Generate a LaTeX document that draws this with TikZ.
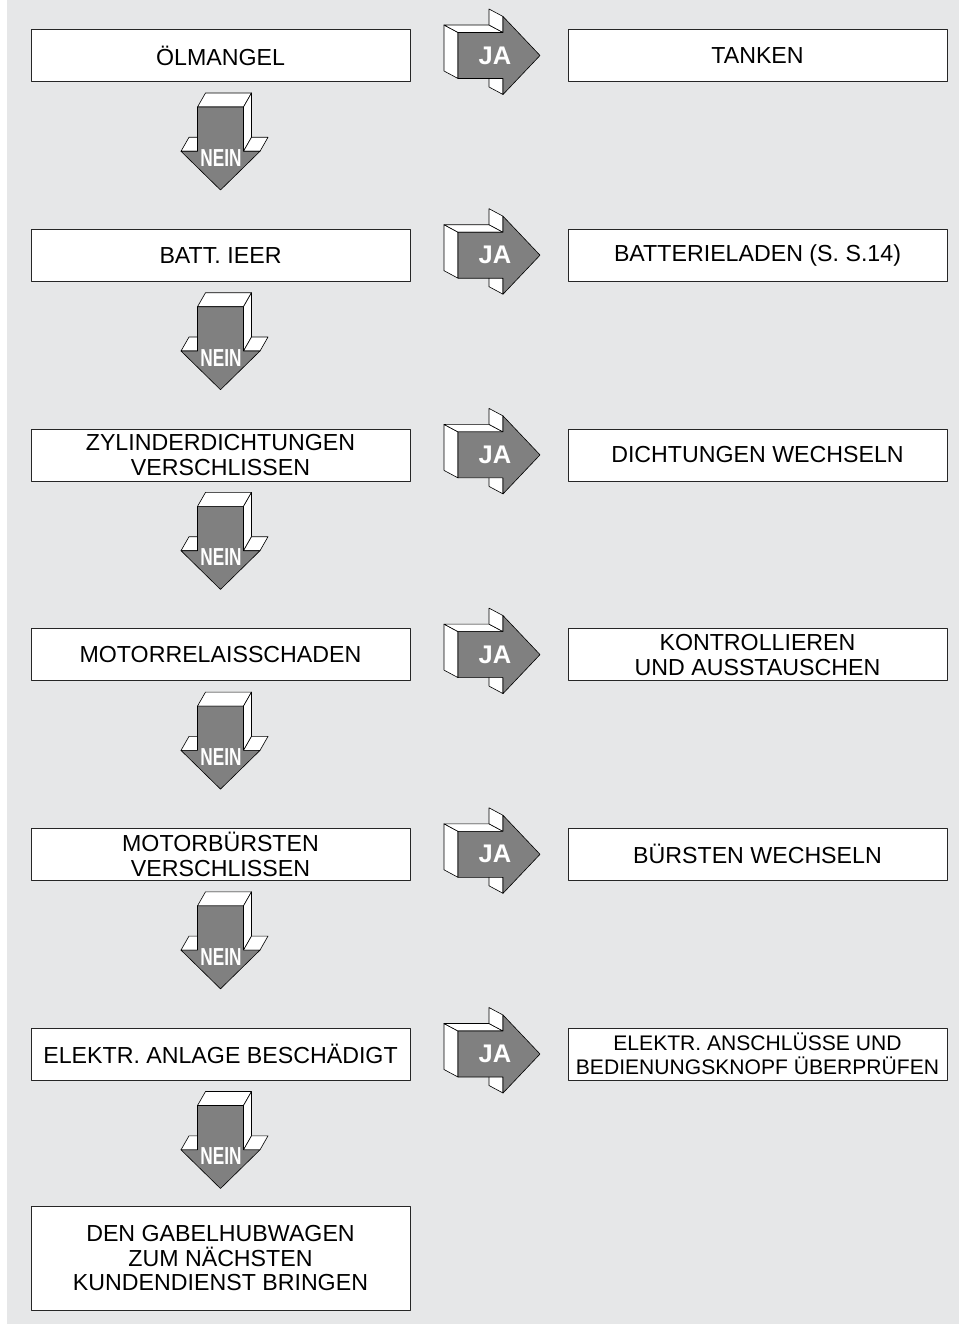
\documentclass[tikz,border=0pt]{standalone}
\usepackage{fontspec}
\setmainfont{Liberation Sans}
\definecolor{panel}{RGB}{230,231,232}
\definecolor{arrowgray}{RGB}{128,128,128}

\begin{document}
\begin{tikzpicture}[x=0.02cm, y=-0.02cm, line join=round,
    box/.style={draw=black!85, fill=white, line width=0.4pt, minimum width=7.58cm, minimum height=1.04cm, align=center, inner sep=0pt, font=\fontsize{13.2}{14.2}\selectfont},
    face/.style={fill=white, draw=black, line width=0.35pt},
    front/.style={fill=arrowgray, draw=black, line width=0.35pt},
    jatext/.style={text=white, font=\fontsize{14.5}{14.5}\selectfont\bfseries, inner sep=0pt},
    neintext/.style={text=white, font=\fontsize{14}{14}\selectfont\bfseries, inner sep=0pt}]
    \useasboundingbox (0,0) rectangle (959,1324);
    \fill[white] (0,0) rectangle (959,1324);
    \fill[panel] (7,0) rectangle (959,1324);

    \node[box] at (220.5, 55.5)   (q1) {ÖLMANGEL};
    \node[box] at (757.5, 55.5)   (a1) {TANKEN};
    \node[box] at (220.5, 255.2)  (q2) {BATT. IEER};
    \node[box] at (757.5, 255.2)  (a2) {BATTERIELADEN (S. S.14)};
    \node[box] at (220.5, 454.9)  (q3) {ZYLINDERDICHTUNGEN\\VERSCHLISSEN};
    \node[box] at (757.5, 454.9)  (a3) {DICHTUNGEN WECHSELN};
    \node[box] at (220.5, 654.6)  (q4) {MOTORRELAISSCHADEN};
    \node[box] at (757.5, 654.6)  (a4) {KONTROLLIEREN\\UND AUSSTAUSCHEN};
    \node[box] at (220.5, 854.3)  (q5) {MOTORBÜRSTEN\\VERSCHLISSEN};
    \node[box] at (757.5, 854.3)  (a5) {BÜRSTEN WECHSELN};
    \node[box] at (220.5, 1054.0) (q6) {ELEKTR. ANLAGE BESCHÄDIGT};
    \node[box, font=\fontsize{12}{13.6}\selectfont] at (757.5, 1054.0) (a6) {ELEKTR. ANSCHLÜSSE UND\\BEDIENUNGSKNOPF ÜBERPRÜFEN};
    \node[box, minimum height=2.08cm] at (220.5, 1258) (service) {DEN GABELHUBWAGEN\\ZUM NÄCHSTEN\\KUNDENDIENST BRINGEN};

    % 3D arrows: JA to the right, NEIN downwards
    \foreach \i in {1,...,6} {
        \pgfmathsetmacro\cy{55.5+199.7*(\i-1)}
        \begin{scope}[shift={(458,\cy)}]
            \filldraw[face] (0,-23) -- (-14,-30.5) -- (-14,15.5) -- (0,23) -- cycle;
            \filldraw[face] (0,-23) -- (-14,-30.5) -- (31,-30.5) -- (45,-23) -- cycle;
            \filldraw[face] (45,-23) -- (45,-39) -- (31,-46.5) -- (31,-30.5) -- cycle;
            \filldraw[face] (45,23) -- (45,39) -- (31,31.5) -- (31,15.5) -- cycle;
            \filldraw[front] (0,-23) -- (45,-23) -- (45,-39) -- (82,0) -- (45,39) -- (45,23) -- (0,23) -- cycle;
            \node[jatext] (ja\i) at (37,0) {JA};
        \end{scope}
        \begin{scope}[shift={(220.5,{\cy+51.5})}]
            \filldraw[face] (-23,0) -- (-15,-14) -- (31,-14) -- (23,0) -- cycle;
            \filldraw[face] (23,0) -- (31,-14) -- (31,30.3) -- (23,44.3) -- cycle;
            \filldraw[face] (-39.5,44.3) -- (-23,44.3) -- (-15,30.3) -- (-31.5,30.3) -- cycle;
            \filldraw[face] (23,44.3) -- (39.5,44.3) -- (47.5,30.3) -- (31,30.3) -- cycle;
            \filldraw[front] (-23,0) -- (23,0) -- (23,44.3) -- (39.5,44.3) -- (0,83) -- (-39.5,44.3) -- (-23,44.3) -- cycle;
            \node[neintext] (nein\i) at (0.5,51) {\scalebox{0.7}[1]{NEIN}};
        \end{scope}
    }

\end{tikzpicture}
\end{document}
